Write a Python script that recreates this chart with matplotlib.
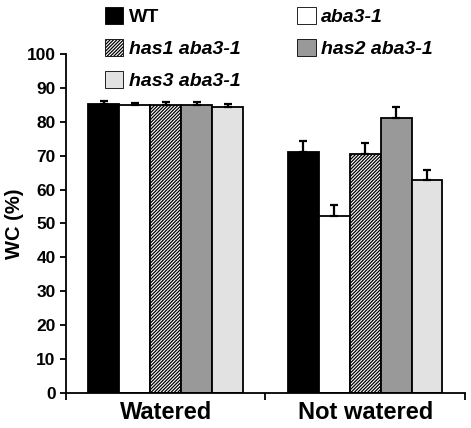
import numpy as np
import matplotlib.pyplot as plt
from matplotlib.patches import Patch

plt.rcParams['font.family'] = ['Liberation Sans', 'DejaVu Sans']
plt.rcParams['font.weight'] = 'bold'
plt.rcParams['hatch.linewidth'] = 0.9

conditions = ['Watered', 'Not watered']
genotypes = ['WT', 'aba3-1', 'has1 aba3-1', 'has2 aba3-1', 'has3 aba3-1']
wt = [85.2, 71.2]
aba3 = [84.8, 52.3]
has1 = [84.8, 70.5]
has2 = [84.8, 81.0]
has3 = [84.3, 62.7]
wt_err = [0.9, 3.0]
aba3_err = [0.7, 3.2]
has1_err = [0.9, 3.1]
has2_err = [0.9, 3.2]
has3_err = [0.9, 3.1]

values = [wt, aba3, has1, has2, has3]
errors = [wt_err, aba3_err, has1_err, has2_err, has3_err]
fills = ['black', 'white', 'white', '#999999', '#e2e2e2']
hatches = [None, None, '//////////', None, None]

fig = plt.figure(figsize=(4.71, 4.28), dpi=100)
ax = fig.add_axes([0.140, 0.082, 0.847, 0.792])

x = np.arange(len(conditions))
w = 0.155
handles = []
for i in range(5):
    pos = x + (i - 2) * w
    ax.bar(pos, values[i], w, color=fills[i], edgecolor='black', linewidth=1.3,
           hatch=hatches[i], zorder=2)
    ax.errorbar(pos, values[i], yerr=[np.zeros(2), errors[i]], fmt='none',
                ecolor='black', elinewidth=1.6, capsize=3, capthick=1.6, zorder=3)
    handles.append(Patch(facecolor=fills[i], edgecolor='black',
                         linewidth=0.6, hatch=hatches[i], label=genotypes[i]))

ax.set_xlim(-0.5, 1.5)
ax.set_ylim(0, 100)
ax.set_yticks(np.arange(0, 101, 10))
ax.tick_params(axis='y', labelsize=12.5, width=1.3, length=4, direction='out')
ax.set_xticks([-0.5, 0.5, 1.5])
ax.set_xticklabels([])
ax.tick_params(axis='x', which='major', width=1.3, length=5, direction='out')
ax.set_xticks(x, minor=True)
ax.set_xticklabels(conditions, minor=True, fontsize=17, fontweight='bold')
ax.tick_params(axis='x', which='minor', length=0, pad=6)
for s in ['top', 'right']:
    ax.spines[s].set_visible(False)
for s in ['left', 'bottom']:
    ax.spines[s].set_linewidth(1.3)
ax.set_ylabel('WC (%)', fontsize=14.5, fontweight='bold', labelpad=2)

# legend: first column WT / has1 / has3, second column aba3-1 / has2
order = [0, 2, 4, 1, 3]
leg = fig.legend([handles[k] for k in order], [genotypes[k] for k in order],
                 loc='upper left', bbox_to_anchor=(0.185, 1.024), ncol=2,
                 frameon=False, fontsize=14, handlelength=0.95, handleheight=0.95,
                 handletextpad=0.3, columnspacing=2.9, labelspacing=0.66)
for t in leg.get_texts():
    if t.get_text() != 'WT':
        t.set_fontstyle('italic')

fig.savefig('out.png', dpi=100)
